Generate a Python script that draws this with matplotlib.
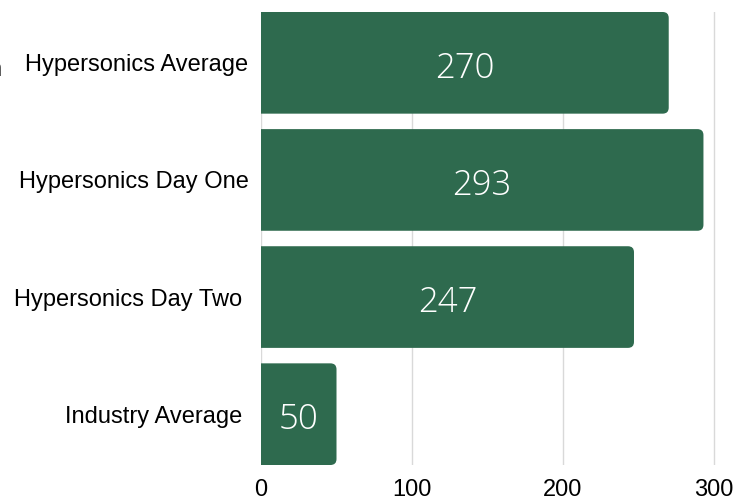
import matplotlib
matplotlib.use("Agg")
import matplotlib.pyplot as plt
from matplotlib.patches import FancyBboxPatch

# data
categories = ["Hypersonics Average", "Hypersonics Day One", "Hypersonics Day Two ", "Industry Average "]
values = [270, 293, 247, 50]
xticks = [0, 100, 200, 300]

bar_color = "#2e6a4e"
bar_h = 0.868

plt.rcParams["font.family"] = ["Liberation Sans", "DejaVu Sans"]

fig = plt.figure(figsize=(7.48, 5.01), dpi=100)
ax = fig.add_axes([261 / 748, 36 / 501, 1 - 261 / 748, 453 / 501])

ypos = list(range(len(categories)))
bars = ax.barh(ypos, values, height=bar_h, color=bar_color, alpha=0)

# rounded right corners: draw a round box that starts left of the axis (clipped)
for b in bars:
    x0, y0 = b.get_x(), b.get_y()
    w, h = b.get_width(), b.get_height()
    patch = FancyBboxPatch((x0 - 20, y0), w + 20, h,
                           boxstyle="round,pad=0,rounding_size=4",
                           mutation_aspect=0.0128,
                           facecolor=bar_color, edgecolor="none", zorder=3)
    ax.add_patch(patch)

for y, v in zip(ypos, values):
    ax.text(v / 2, y + 0.05, str(v), color="white", ha="center", va="center",
            fontsize=25, family=["Open Sans", "DejaVu Sans"], fontweight="light", zorder=4)

ax.set_xlim(0, 322.5)
ax.set_ylim(3 + bar_h / 2, -bar_h / 2)
ax.set_yticks(ypos)
ax.set_yticklabels(categories, fontsize=17, va="center_baseline")
ax.set_xticks(xticks)
ax.set_xticklabels([str(t) for t in xticks], fontsize=17)
ax.tick_params(axis="both", length=0)
ax.tick_params(axis="y", pad=9)
ax.tick_params(axis="x", pad=10)
ax.grid(axis="x", color="#d9d9d9", linewidth=1)
ax.set_axisbelow(True)
for s in ax.spines.values():
    s.set_visible(False)

# clipped glyph at the left edge
fig.text(-0.0155, 1 - 70 / 501, "n", fontsize=17, va="center", ha="left")

fig.savefig("out.png", dpi=100)
